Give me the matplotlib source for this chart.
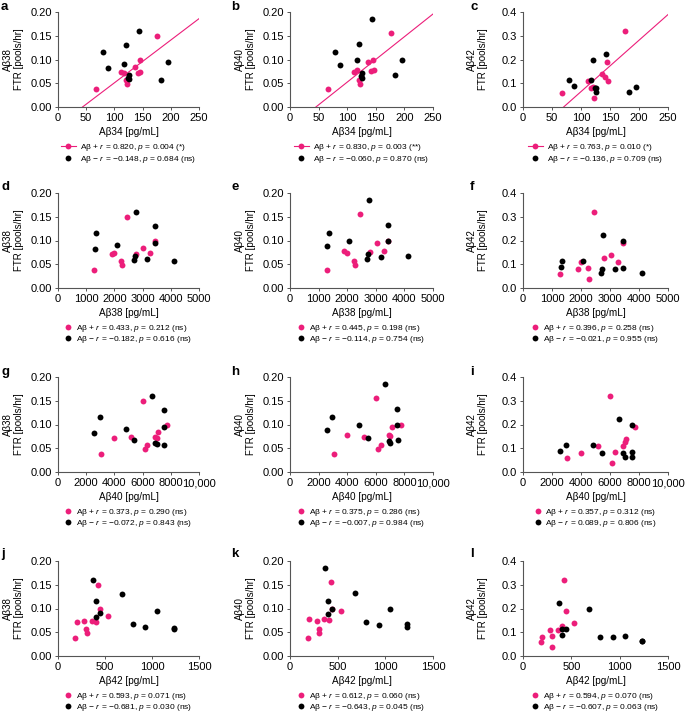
import numpy as np
import matplotlib
matplotlib.use("Agg")
import matplotlib.pyplot as plt
from matplotlib.lines import Line2D
from matplotlib.ticker import FuncFormatter

plt.rcParams['font.family'] = ['Liberation Sans', 'DejaVu Sans']
plt.rcParams['mathtext.fontset'] = 'custom'
plt.rcParams['mathtext.rm'] = 'Liberation Sans'
plt.rcParams['mathtext.it'] = 'Liberation Sans:italic'

# per-subject values, Abeta+ group
pos_ab34 = [67, 112, 117, 120, 122, 136, 142, 145, 146, 176]
pos_ab38 = [1280, 2000, 1900, 2250, 2280, 3030, 2780, 3440, 3280, 2450]
pos_ab40 = [3050, 5150, 3980, 6330, 6150, 7120, 7000, 7750, 6900, 6000]
pos_ab42 = [185, 280, 200, 300, 305, 530, 405, 445, 360, 425]
pos_ftr38 = [0.038, 0.073, 0.071, 0.056, 0.048, 0.085, 0.071, 0.099, 0.073, 0.150]
pos_ftr40 = [0.037, 0.074, 0.078, 0.056, 0.048, 0.094, 0.076, 0.099, 0.077, 0.155]
pos_ftr42 = [0.060, 0.110, 0.080, 0.085, 0.038, 0.140, 0.125, 0.190, 0.110, 0.322]

# Abeta- group
neg_ab34 = [79, 88, 117, 120, 143, 183, 195, 126, 125, 124]
neg_ab38 = [1350, 1300, 2080, 3440, 2750, 4120, 3440, 2680, 2720, 3170]
neg_ab40 = [2960, 2580, 4830, 7500, 6650, 7550, 7500, 7000, 5420, 6900]
neg_ab42 = [400, 400, 445, 680, 370, 1230, 1050, 1230, 800, 930]
neg_ftr38 = [0.116, 0.083, 0.091, 0.130, 0.161, 0.056, 0.094, 0.058, 0.068, 0.061]
neg_ftr40 = [0.115, 0.088, 0.098, 0.133, 0.185, 0.068, 0.099, 0.062, 0.072, 0.066]
neg_ftr42 = [0.115, 0.090, 0.113, 0.200, 0.225, 0.063, 0.085, 0.062, 0.080, 0.080]

x_names = ['Aβ34', 'Aβ38', 'Aβ40', 'Aβ42']
y_names = ['Aβ38', 'Aβ40', 'Aβ42']
letters = ['a', 'b', 'c', 'd', 'e', 'f', 'g', 'h', 'i', 'j', 'k', 'l']

pos_r = ['0.820', '0.830', '0.763', '0.433', '0.445', '0.396',
         '0.373', '0.375', '0.357', '0.593', '0.612', '0.594']
pos_p = ['0.004 (*)', '0.003 (**)', '0.010 (*)', '0.212 (ns)', '0.198 (ns)', '0.258 (ns)',
         '0.290 (ns)', '0.286 (ns)', '0.312 (ns)', '0.071 (ns)', '0.060 (ns)', '0.070 (ns)']
neg_r = ['−0.148', '−0.060', '−0.136', '−0.182', '−0.114', '−0.021',
         '−0.072', '−0.007', '0.089', '−0.681', '−0.643', '−0.607']
neg_p = ['0.684 (ns)', '0.870 (ns)', '0.709 (ns)', '0.616 (ns)', '0.754 (ns)', '0.955 (ns)',
         '0.843 (ns)', '0.984 (ns)', '0.806 (ns)', '0.030 (ns)', '0.045 (ns)', '0.063 (ns)']

pos_x = [pos_ab34, pos_ab38, pos_ab40, pos_ab42]
neg_x = [neg_ab34, neg_ab38, neg_ab40, neg_ab42]
pos_y = [pos_ftr38, pos_ftr40, pos_ftr42]
neg_y = [neg_ftr38, neg_ftr40, neg_ftr42]

x_max = [250, 5000, 10000, 1500]
x_step = [50, 1000, 2000, 500]

PINK = '#EC1E7A'
SPINE = '#555555'
W, H = 685, 716

fig = plt.figure(figsize=(W / 100, H / 100), dpi=100)

lefts = [58, 290, 523]
widths = [141, 143, 145]
tops = [12, 193, 377, 561]
ah = 95
letter_x = [1, 231, 470]
letter_y = [1, 181, 366, 548]


def big_comma(v, p):
    v = int(round(v))
    return f'{v:,}' if v >= 10000 else str(v)


for row in range(4):
    for col in range(3):
        k = row * 3 + col
        ax = fig.add_axes([lefts[col] / W, 1 - (tops[row] + ah) / H, widths[col] / W, ah / H])
        xp, yp = pos_x[row], pos_y[col]
        xn, yn = neg_x[row], neg_y[col]
        ax.scatter(xp, yp, s=18, color=PINK, lw=0, zorder=3)
        ax.scatter(xn, yn, s=18, color='black', lw=0, zorder=3)

        if row == 0:
            m, b = np.polyfit(xp, yp, 1)
            xs = np.array([max(0, -b / m), x_max[row]])
            ax.plot(xs, m * xs + b, color=PINK, lw=0.8, zorder=2)

        ax.set_xlim(0, x_max[row])
        ax.set_xticks(np.arange(0, x_max[row] + 1, x_step[row]))
        ax.xaxis.set_major_formatter(FuncFormatter(big_comma))
        if col == 2:
            ax.set_ylim(0, 0.4)
            ax.set_yticks(np.arange(0, 0.41, 0.1))
            ax.yaxis.set_major_formatter(FuncFormatter(lambda v, p: f'{v:.1f}'))
        else:
            ax.set_ylim(0, 0.2)
            ax.set_yticks(np.arange(0, 0.201, 0.05))
            ax.yaxis.set_major_formatter(FuncFormatter(lambda v, p: f'{v:.2f}'))

        for s in ['top', 'right']:
            ax.spines[s].set_visible(False)
        for s in ['left', 'bottom']:
            ax.spines[s].set_color(SPINE)
            ax.spines[s].set_linewidth(0.8)
        ax.tick_params(length=2.5, width=0.7, color=SPINE, pad=2, labelsize=8)

        ax.set_xlabel(x_names[row] + ' [pg/mL]', fontsize=7.2, labelpad=3)
        ax.set_ylabel(y_names[col] + '\nFTR [pools/hr]', fontsize=7, linespacing=1.1)
        ax.yaxis.set_label_coords(-0.24, 0.5)

        lab1 = 'Aβ + $r$ = ' + pos_r[k] + ', $p$ = ' + pos_p[k]
        lab2 = 'Aβ − $r$ = ' + neg_r[k] + ', $p$ = ' + neg_p[k]
        if row == 0:
            h1 = Line2D([], [], color=PINK, lw=0.8, marker='o', ms=4.2, mew=0)
            h2 = Line2D([], [], color='none', marker='o', ms=4.2, mfc='black', mew=0)
            hl = 1.8
            sp = 0.1
        else:
            h1 = Line2D([], [], ls='none', marker='o', ms=4.2, mfc=PINK, mew=0)
            h2 = Line2D([], [], ls='none', marker='o', ms=4.2, mfc='black', mew=0)
            hl = 0.8
            sp = -0.05
        ax.legend([h1, h2], [lab1, lab2], loc='upper center', bbox_to_anchor=(0.5, -0.37),
                  frameon=False, fontsize=6.0, handlelength=hl, handletextpad=0.5,
                  labelspacing=sp, borderpad=0, borderaxespad=0)

        fig.text(letter_x[col] / W, 1 - letter_y[row] / H, letters[k],
                 fontsize=9.5, fontweight='bold', va='top', ha='left')

fig.savefig('out.png', dpi=100)
